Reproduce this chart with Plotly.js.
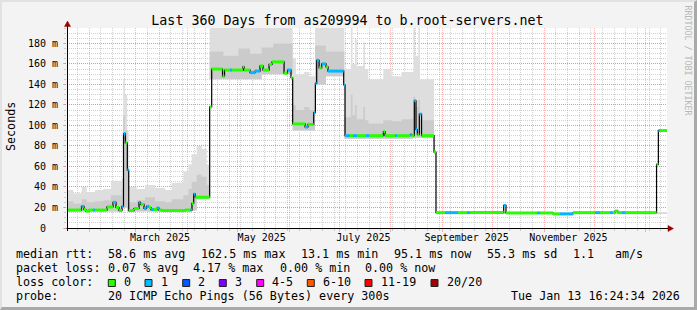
<!DOCTYPE html>
<html><head><meta charset="utf-8">
<script src="https://cdn.plot.ly/plotly-3.0.1.min.js"></script>
<style>
html,body{margin:0;padding:0;background:#f3f3f3;}
#wrap{position:relative;width:697px;height:310px;overflow:hidden;}
#chart{width:697px;height:310px;}
#frame{position:absolute;left:0;top:0;width:697px;height:310px;box-sizing:border-box;border-left:2px solid #e2e2e2;border-top:2px solid #e2e2e2;border-right:3px solid #a9a9a9;border-bottom:3px solid #a9a9a9;pointer-events:none;}
</style></head><body>
<div id="wrap"><div id="chart"></div><div id="frame"></div></div>
<script>
// ---------------- data ----------------
const startTime = '2025-01-18 16:24';
const endTime = '2026-01-13 16:24';

const medDates = [
'2025-01-18 16:24','2025-01-27 09:00','2025-01-28 21:00','2025-01-30 02:00','2025-01-31 21:00','2025-02-03 07:00','2025-02-04 12:00','2025-02-11 16:00','2025-02-15 07:00','2025-02-17 02:00',
'2025-02-18 21:00','2025-02-20 16:00','2025-02-21 14:00','2025-02-22 16:00','2025-02-23 21:00','2025-02-24 17:00','2025-02-27 21:00','2025-03-02 21:00','2025-03-03 19:00','2025-03-05 21:00',
'2025-03-07 09:00','2025-03-08 21:00','2025-03-10 02:00','2025-03-11 21:00','2025-03-13 16:00','2025-03-14 21:00','2025-03-16 16:00','2025-03-30 12:00','2025-04-02 19:00','2025-04-03 16:00',
'2025-04-04 17:00','2025-04-05 16:00','2025-04-14 07:00','2025-04-15 12:00','2025-04-22 00:00','2025-04-23 05:00','2025-04-26 12:00','2025-04-27 17:00','2025-05-04 07:00','2025-05-04 22:00',
'2025-05-08 12:00','2025-05-11 12:00','2025-05-14 12:00','2025-05-16 07:00','2025-05-19 22:00','2025-05-21 17:00','2025-05-28 22:00','2025-05-31 00:00','2025-06-02 02:00','2025-06-03 02:00',
'2025-06-10 12:00','2025-06-12 07:00','2025-06-15 17:00','2025-06-16 17:00','2025-06-17 12:00','2025-06-18 22:00','2025-06-20 12:00','2025-06-23 02:00','2025-06-24 07:00','2025-07-03 17:00',
'2025-07-04 12:00','2025-07-07 12:00','2025-07-09 07:00','2025-07-11 17:00','2025-07-17 02:00','2025-07-18 22:00','2025-07-27 12:00','2025-07-28 12:00','2025-08-03 12:00','2025-08-04 17:00',
'2025-08-12 12:00','2025-08-13 17:00','2025-08-15 02:00','2025-08-16 02:00','2025-08-16 22:00','2025-08-18 02:00','2025-08-19 10:00','2025-08-26 22:00','2025-08-28 02:00','2025-09-02 12:00',
'2025-09-10 07:00','2025-09-15 17:00','2025-09-17 05:00','2025-10-07 17:00','2025-10-09 02:00','2025-10-27 17:00','2025-10-29 12:00','2025-11-06 07:00','2025-11-10 12:00','2025-11-18 07:00',
'2025-12-01 12:00','2025-12-04 12:00','2025-12-10 12:00','2025-12-12 07:00','2025-12-13 12:00','2025-12-15 07:00','2025-12-17 17:00','2025-12-19 12:00','2026-01-07 10:00','2026-01-08 12:00',
'2026-01-09 12:00'
];
// median rtt in ms
const medValues = [
17.5,21,18,16.5,17.5,17.5,17.5,20.5,25,20,
17,21,92,83,56.5,17,19,25,23,19,
21,20,18,18,19.5,17.5,17,17.5,17.5,24,
33,30,118,155,148,154,154,154,157,154,
151.5,153,158,154,159.5,162,151,154,146.5,101.5,
98.5,101,112.5,141,163.5,156,160,157,153,139.5,
90,90,90,90,90,90,94,90,90,90,
91,90,124,96,91,111,90,74,15,15,
15,15,15,22,14.7,14.7,14.7,13.7,13.7,15,
15,15,15,15,16.5,15,15,15,62,95,
95
];
// lost pings (of 20) per step
const medLoss = [
0,1,0,0,0,1,0,0,1,0,
0,1,1,0,1,0,0,1,0,1,
1,0,1,0,1,0,0,0,1,0,
1,0,0,0,0,0,1,0,0,0,
1,1,0,0,0,0,0,1,0,0,
1,0,1,1,1,0,1,0,1,1,
1,0,1,0,1,0,0,0,1,0,
1,0,1,1,0,1,0,0,0,1,
0,1,0,1,0,1,0,0,1,0,
1,0,1,0,0,0,1,0,0,1,
0
];

// smoke (ping spread) in ms
const smokeDates = [
'2025-01-18 16:24','2025-01-22 12:00','2025-01-27 12:00','2025-01-30 12:00','2025-02-04 12:00','2025-02-09 12:00','2025-02-14 00:00','2025-02-20 12:00','2025-02-21 10:00','2025-02-22 12:00',
'2025-02-23 19:00','2025-02-24 17:00','2025-03-01 12:00','2025-03-06 12:00','2025-03-12 12:00','2025-03-18 12:00','2025-03-22 12:00','2025-03-29 12:00','2025-04-01 12:00','2025-04-03 12:00',
'2025-04-06 12:00','2025-04-09 12:00','2025-04-12 12:00','2025-04-14 07:00','2025-04-22 12:00','2025-05-01 12:00','2025-05-08 12:00','2025-05-15 12:00','2025-05-22 12:00','2025-06-03 02:00',
'2025-06-05 00:00','2025-06-10 00:00','2025-06-13 00:00','2025-06-16 12:00','2025-06-23 00:00','2025-07-04 02:00','2025-07-08 00:00','2025-07-09 00:00','2025-07-10 12:00','2025-07-11 12:00',
'2025-07-15 12:00','2025-07-16 12:00','2025-07-18 12:00','2025-07-27 12:00','2025-08-01 12:00','2025-08-07 12:00','2025-08-14 12:00','2025-08-15 12:00','2025-08-17 12:00','2025-08-18 12:00',
'2025-08-26 22:00','2025-08-28 02:00'
];
const smokeLo = [
16,16,16,16,16,16,16,17,20,20,
16,16,16,16,16,16,16,16,16,17,
28,28,28,145,145,145,145,150,150,95,
95,95,95,140,148,87,87,87,87,87,
87,87,87,87,87,87,88,88,88,88,
72,14
];
const smokeMid = [
26,24,28,25,26,27,32,38,110,95,
60,25,27,30,26,25,28,32,38,45,
52,50,42,172,168,175,170,176,180,120,
115,118,115,178,172,108,130,110,120,106,
118,105,102,105,104,106,128,118,125,105,
74,14.5
];
const smokeHi = [
37,34,40,35,37,38,46,48,145,130,
95,40,38,42,39,37,44,55,62,72,
80,77,62,200,200,200,200,200,200,165,
150,152,148,200,200,155,200,160,184,158,
181,155,145,155,148,152,200,168,200,145,
76,15.5
];

// axis labels
const yTickVals = [0,20,40,60,80,100,120,140,160,180];
const yTickText = ['0\u00a0\u00a0','20 m','40 m','60 m','80 m','100 m','120 m','140 m','160 m','180 m'];
const xLabelVals = ['2025-03-15 12:00','2025-05-15 12:00','2025-07-15 12:00','2025-09-15 12:00','2025-11-15 12:00'];
const xLabelText = ['March 2025','May 2025','July 2025','September 2025','November 2025'];

// legend
const titleText = 'Last 360 Days from as209994 to b.root-servers.net';
const medianStats = ['58.6 ms avg','162.5 ms max','13.1 ms min','95.1 ms now','55.3 ms sd','1.1','am/s'];
const lossStats = ['0.07 % avg','4.17 % max','0.00 % min','0.00 % now'];
const lossLabels = ['0','1','2','3','4-5','6-10','11-19','20/20'];
const lossColors = ['#26ff00','#00b8ff','#0059ff','#7e00ff','#ff00ff','#ff5500','#ff0000','#a10000'];
const probeText = '20 ICMP Echo Pings (56 Bytes) every 300s';
const stampText = 'Tue Jan 13 16:24:34 2026';

// ---------------- layout helpers ----------------
const L = 67, R = 667, T = 28, B = 228;
const px = x => (x - L) / (R - L);
const py = y => (B - y) / (B - T);
const FONT = 'DejaVu Sans Mono, monospace';
const nb = s => s.replace(/ /g, '\u00a0');

// ---------------- traces ----------------
const traces = [];
const sx = smokeDates.concat([endTime]);
const ext = a => a.concat([a[a.length - 1]]);
traces.push({x: sx, y: ext(smokeLo), type: 'scatter', mode: 'lines', line: {width: 0, shape: 'hv'}, hoverinfo: 'skip', showlegend: false});
traces.push({x: sx, y: ext(smokeHi), type: 'scatter', mode: 'lines', line: {width: 0, shape: 'hv'}, fill: 'tonexty', fillcolor: 'rgb(222,222,222)', hoverinfo: 'skip', showlegend: false});
traces.push({x: sx, y: ext(smokeLo), type: 'scatter', mode: 'lines', line: {width: 0, shape: 'hv'}, hoverinfo: 'skip', showlegend: false});
traces.push({x: sx, y: ext(smokeMid), type: 'scatter', mode: 'lines', line: {width: 0, shape: 'hv'}, fill: 'tonexty', fillcolor: 'rgb(203,203,203)', hoverinfo: 'skip', showlegend: false});

const mx = medDates.concat([endTime]);
traces.push({x: mx, y: ext(medValues), type: 'scatter', mode: 'lines', line: {color: '#000', width: 1.2, shape: 'hv'}, hoverinfo: 'skip', showlegend: false});

// colored median segments per loss level
const levels = [...new Set(medLoss)].sort();
levels.forEach(lv => {
  const xs = [], ys = [];
  for (let i = 0; i < medDates.length; i++) {
    if (medLoss[i] !== lv) continue;
    xs.push(mx[i], mx[i + 1], null);
    ys.push(medValues[i], medValues[i], null);
  }
  traces.push({x: xs, y: ys, type: 'scatter', mode: 'lines', line: {color: lossColors[lv], width: 3}, hoverinfo: 'skip', showlegend: false});
});
// carrier for label axis
traces.push({x: [startTime, endTime], y: [null, null], xaxis: 'x2', type: 'scatter', mode: 'lines', hoverinfo: 'skip', showlegend: false});

// ---------------- annotations & shapes ----------------
const ann = [];
const shapes = [];
const addText = (text, x, y, opts = {}) => ann.push(Object.assign({
  text: nb(text), xref: 'paper', yref: 'paper', x: px(x), y: py(y), xanchor: 'left', yanchor: 'middle',
  showarrow: false, borderpad: 0, font: {family: FONT, size: 11.7, color: '#000'}
}, opts));

const row1 = 254.3, row2 = 268.3, row3 = 282.3, row4 = 296.3;
addText('median rtt:', 15, row1);
[107, 200, 300, 393, 486, 572, 614].forEach((x, i) => addText(medianStats[i], x - 0.5, row1));
addText('packet loss:', 15, row2);
[107, 192, 279, 364].forEach((x, i) => addText(lossStats[i], x - 0.5, row2));
addText('loss color:', 15, row3);
const boxX = [108.3, 145, 182.7, 219.3, 256.7, 307.3, 365, 431];
const labX = [123.3, 160, 197.3, 234.3, 271, 322.3, 380, 446];
lossLabels.forEach((lab, i) => {
  addText(lab, labX[i] - 0.5, row3);
  shapes.push({type: 'rect', xref: 'paper', yref: 'paper', x0: px(boxX[i]), x1: px(boxX[i] + 7), y0: py(286.5), y1: py(279.5),
    fillcolor: lossColors[i], line: {color: '#222', width: 1}, layer: 'above'});
});
addText('probe:', 15, row4);
addText(probeText, 106.5, row4);
addText(stampText, 680.5, row4, {xanchor: 'right'});

// y title
ann.push({text: 'Seconds', xref: 'paper', yref: 'paper', x: px(11), y: py(127), xanchor: 'center', yanchor: 'middle',
  textangle: -90, showarrow: false, borderpad: 0, font: {family: FONT, size: 11.7, color: '#000'}});
// watermark
ann.push({text: nb('RRDTOOL / TOBI OETIKER'), xref: 'paper', yref: 'paper', x: px(687.5), y: py(60), xanchor: 'center', yanchor: 'middle',
  textangle: 90, showarrow: false, borderpad: 0, font: {family: FONT, size: 8.3, color: '#b8b8b8'}});

// axis lines with arrows
shapes.push({type: 'line', xref: 'paper', yref: 'paper', x0: px(66.5), x1: px(669), y0: py(228.5), y1: py(228.5), line: {color: '#000', width: 1}});
shapes.push({type: 'line', xref: 'paper', yref: 'paper', x0: px(67.5), x1: px(67.5), y0: py(231), y1: py(26), line: {color: '#000', width: 1}});
shapes.push({type: 'path', xref: 'paper', yref: 'paper',
  path: `M${px(668)},${py(225.5)} L${px(673.5)},${py(228.5)} L${px(668)},${py(231.5)} Z`, fillcolor: '#9a0000', line: {color: '#9a0000', width: 0.5}});
shapes.push({type: 'path', xref: 'paper', yref: 'paper',
  path: `M${px(64.5)},${py(26.5)} L${px(67.5)},${py(21)} L${px(70.5)},${py(26.5)} Z`, fillcolor: '#9a0000', line: {color: '#9a0000', width: 0.5}});

const majorGrid = 'rgba(255,60,60,0.38)';
const minorGrid = 'rgba(170,170,170,0.55)';
const dots = '1px,1px';

const layout = {
  width: 697, height: 310,
  margin: {l: L, r: 697 - R, t: T, b: 310 - B, pad: 0},
  paper_bgcolor: '#f3f3f3', plot_bgcolor: '#ffffff',
  showlegend: false,
  title: {text: titleText, xref: 'container', yref: 'container', x: 347.5 / 697, y: 1 - 20 / 310,
    xanchor: 'center', yanchor: 'middle', font: {family: FONT, size: 13.3, color: '#000'}},
  xaxis: {type: 'date', range: [startTime, endTime], tickmode: 'linear', tick0: '2025-01-01', dtick: 'M1',
    showticklabels: false, showgrid: true, gridcolor: majorGrid, griddash: dots, gridwidth: 1,
    ticks: 'outside', ticklen: 3, tickcolor: majorGrid, zeroline: false, showline: false,
    minor: {tick0: '2025-01-25', dtick: 7 * 86400000, showgrid: true, gridcolor: minorGrid, griddash: dots,
      ticks: 'outside', ticklen: 2, tickcolor: minorGrid}},
  xaxis2: {type: 'date', overlaying: 'x', anchor: 'y', side: 'bottom', range: [startTime, endTime],
    tickmode: 'array', tickvals: xLabelVals, ticktext: xLabelText, showgrid: false, zeroline: false, showline: false,
    ticks: '', ticklabelstandoff: 2, tickfont: {family: FONT, size: 10, color: '#000'}},
  yaxis: {range: [0, 195], tickmode: 'array', tickvals: yTickVals, ticktext: yTickText,
    showgrid: true, gridcolor: majorGrid, griddash: dots, zeroline: false, showline: false,
    ticks: 'outside', ticklen: 3, tickcolor: majorGrid, ticklabelstandoff: 3,
    tickfont: {family: FONT, size: 10, color: '#000'},
    minor: {tick0: 0, dtick: 5, showgrid: true, gridcolor: minorGrid, griddash: dots, ticks: 'outside', ticklen: 2, tickcolor: minorGrid}},
  annotations: ann,
  shapes: shapes
};

Plotly.newPlot('chart', traces, layout, {staticPlot: true, displayModeBar: false});
</script></body></html>
